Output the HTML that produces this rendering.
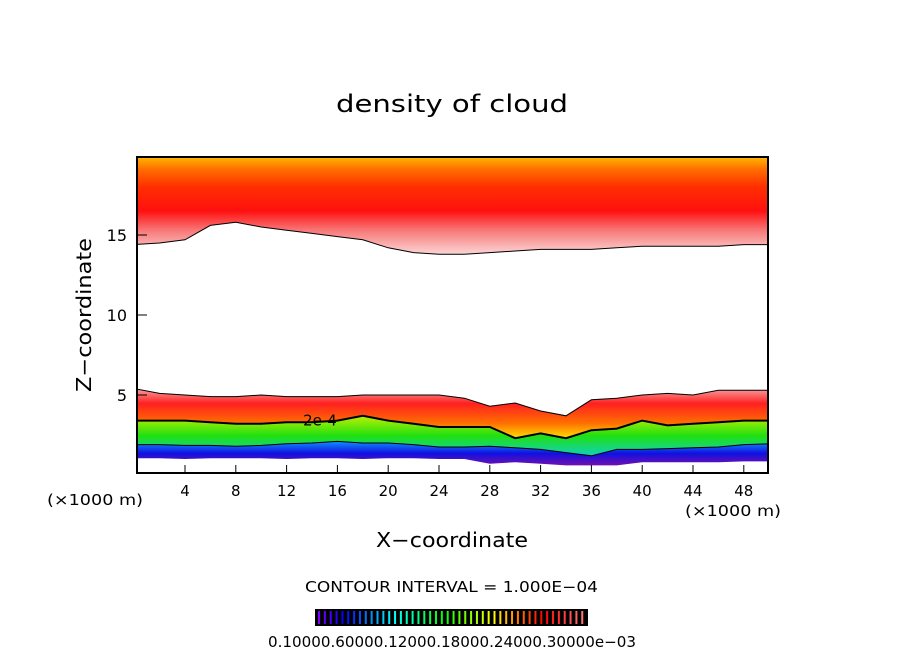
<!DOCTYPE html>
<html><head><meta charset="utf-8"><style>
body{margin:0;background:#fff;}
svg{display:block;font-family:"DejaVu Sans","Liberation Sans",sans-serif;}
</style></head><body>
<svg id="chart" width="904" height="654" viewBox="0 0 904 654">
<defs>
<clipPath id="clip"><rect x="137" y="157" width="631" height="316"/></clipPath>
<linearGradient id="gUp" gradientUnits="userSpaceOnUse" x1="0" y1="255" x2="0" y2="157">
<stop offset="0" stop-color="#fbd8d8"/><stop offset="0.25" stop-color="#f87878"/><stop offset="0.45" stop-color="#ff1010"/><stop offset="0.7" stop-color="#ff3000"/><stop offset="0.88" stop-color="#ff7000"/><stop offset="1" stop-color="#ffb800"/></linearGradient>
<linearGradient id="gB1" x1="0" y1="0" x2="0" y2="1">
<stop offset="0" stop-color="#f8a0a0"/><stop offset="0.3" stop-color="#ff2020"/><stop offset="0.7" stop-color="#ff7000"/><stop offset="1" stop-color="#ffe000"/></linearGradient>
<linearGradient id="gB2" x1="0" y1="0" x2="0" y2="1">
<stop offset="0" stop-color="#c0f000"/><stop offset="0.5" stop-color="#20e010"/><stop offset="1" stop-color="#10d0c0"/></linearGradient>
<linearGradient id="gB3" x1="0" y1="0" x2="0" y2="1">
<stop offset="0" stop-color="#1090ff"/><stop offset="0.5" stop-color="#1010e0"/><stop offset="1" stop-color="#7010b0"/></linearGradient>
</defs>
<text x="336" y="112" font-size="24" textLength="232" lengthAdjust="spacingAndGlyphs">density of cloud</text>
<g id="plot" clip-path="url(#clip)"></g>
<rect x="137" y="157" width="631" height="316" fill="none" stroke="#000" stroke-width="2"/>
<g id="axes"></g>
<text x="47" y="505" font-size="15" textLength="96" lengthAdjust="spacingAndGlyphs">(×1000 m)</text>
<text x="685" y="516" font-size="15" textLength="96" lengthAdjust="spacingAndGlyphs">(×1000 m)</text>
<text x="376" y="547" font-size="20" textLength="152" lengthAdjust="spacingAndGlyphs">X−coordinate</text>
<text transform="translate(91,392) rotate(-90)" font-size="20" textLength="154" lengthAdjust="spacingAndGlyphs">Z−coordinate</text>
<text x="305" y="592" font-size="15" textLength="293" lengthAdjust="spacingAndGlyphs">CONTOUR INTERVAL = 1.000E−04</text>
<rect x="315" y="609" width="273" height="17" fill="#000"/>
<g id="cbar"></g>
<text x="268" y="647" font-size="15" textLength="368" lengthAdjust="spacingAndGlyphs">0.10000.60000.12000.18000.24000.30000e−03</text>
</svg>
<script>
const xs=[0,2,4,6,8,10,12,14,16,18,20,22,24,26,28,30,32,34,36,38,40,42,44,46,48,50];
const upperBottom=[14.4,14.5,14.7,15.6,15.8,15.5,15.3,15.1,14.9,14.7,14.2,13.9,13.8,13.8,13.9,14.0,14.1,14.1,14.1,14.2,14.3,14.3,14.3,14.3,14.4,14.4];
const lowerTop=[5.4,5.1,5.0,4.9,4.9,5.0,4.9,4.9,4.9,5.0,5.0,5.0,5.0,4.8,4.3,4.5,4.0,3.7,4.7,4.8,5.0,5.1,5.0,5.3,5.3,5.3];
const contour2e4=[3.4,3.4,3.4,3.3,3.2,3.2,3.3,3.3,3.4,3.7,3.4,3.2,3.0,3.0,3.0,2.3,2.6,2.3,2.8,2.9,3.4,3.1,3.2,3.3,3.4,3.4];
const contour1e4=[1.9,1.9,1.85,1.85,1.8,1.85,1.95,2.0,2.1,2.0,2.0,1.9,1.75,1.75,1.8,1.7,1.6,1.4,1.2,1.6,1.6,1.65,1.7,1.75,1.9,1.95];
const cloudBase=[1.05,1.05,1.0,1.05,1.05,1.05,1.0,1.05,1.05,1.0,1.05,1.05,1.0,1.0,0.7,0.8,0.7,0.6,0.6,0.6,0.8,0.8,0.8,0.8,0.85,0.85];
const xTicks=[4,8,12,16,20,24,28,32,36,40,44,48];
const zTicks=[5,10,15];
const X=v=>134.2+12.7*v, Y=z=>475-16*z;
const ns="http://www.w3.org/2000/svg";
const plot=document.getElementById('plot'), axes=document.getElementById('axes');
function pts(a){return xs.map((x,i)=>X(x).toFixed(1)+','+Y(a[i]).toFixed(1));}
function band(top,bot,fill,name){const p=document.createElementNS(ns,'polygon');
p.setAttribute('points',pts(top).concat(pts(bot).reverse()).join(' '));p.setAttribute('fill',fill);


plot.appendChild(p);}
const topLine=xs.map(()=>20.5);
band(topLine,upperBottom,'url(#gUp)','upper-cloud-layer');
band(lowerTop,contour2e4,'url(#gB1)','lower-cloud-band-red');
band(contour2e4,contour1e4,'url(#gB2)','lower-cloud-band-green');
band(contour1e4,cloudBase,'url(#gB3)','lower-cloud-band-blue');
function line(a,w,name){const p=document.createElementNS(ns,'polyline');p.setAttribute('points',pts(a).join(' '));
p.setAttribute('fill','none');p.setAttribute('stroke','#000');p.setAttribute('stroke-width',w);


plot.appendChild(p);}
line(upperBottom,1,'upper-cloud-edge');line(lowerTop,1,'lower-cloud-edge');
line(contour2e4,2,'contour-2e-4');line(contour1e4,1,'contour-1e-4');
const lb=document.createElementNS(ns,'text');lb.setAttribute('x',X(13.3));lb.setAttribute('y',Y(3.4)+5);
lb.setAttribute('font-size','15');lb.textContent='2e-4';


plot.appendChild(lb);
xTicks.forEach(v=>{const t=document.createElementNS(ns,'line');t.setAttribute('x1',X(v));t.setAttribute('x2',X(v));
t.setAttribute('y1',473);t.setAttribute('y2',465);t.setAttribute('stroke','#000');


axes.appendChild(t);
const l=document.createElementNS(ns,'text');l.setAttribute('x',X(v));l.setAttribute('y',496);l.setAttribute('font-size','15');
l.setAttribute('text-anchor','middle');l.textContent=v;


axes.appendChild(l);});
zTicks.forEach(v=>{const t=document.createElementNS(ns,'line');t.setAttribute('x1',137);t.setAttribute('x2',147);
t.setAttribute('y1',Y(v));t.setAttribute('y2',Y(v));t.setAttribute('stroke','#000');


axes.appendChild(t);
const l=document.createElementNS(ns,'text');l.setAttribute('x',127);l.setAttribute('y',Y(v)+6);l.setAttribute('font-size','16');
l.setAttribute('text-anchor','end');l.textContent=v;


axes.appendChild(l);});
const cb=document.getElementById('cbar');
for(let i=0;i<46;i++){const f=i/45;const hue=f<0.85?270-270*f/0.85:0;const light=f<0.85?50:50+(f-0.85)*150;
const r=document.createElementNS(ns,'rect');r.setAttribute('x',318+i*5.85);r.setAttribute('y',611);r.setAttribute('width',2);r.setAttribute('height',13);
r.setAttribute('fill','hsl('+hue+',100%,'+light+'%)');


cb.appendChild(r);}
</script>
</body></html>
